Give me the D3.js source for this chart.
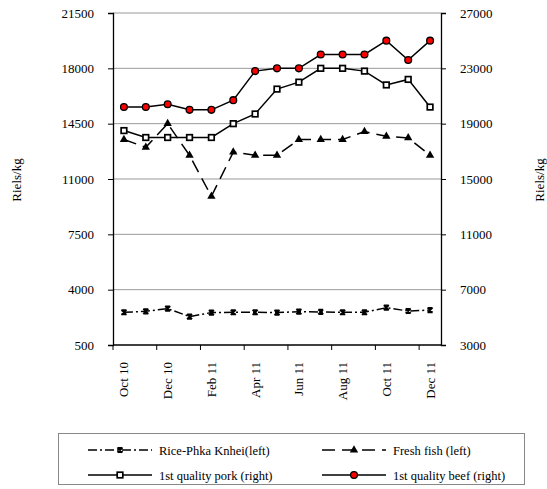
<!DOCTYPE html>
<html><head><meta charset="utf-8">
<script src="https://cdn.jsdelivr.net/npm/d3@7"></script>
<style>body{margin:0;background:#fff}svg{display:block}svg text{font-family:"Liberation Serif","Times New Roman",Times,"DejaVu Serif",serif !important;fill:#000}</style>
</head><body>
<script>
const months = ["Oct 10","Nov 10","Dec 10","Jan 11","Feb 11","Mar 11","Apr 11","May 11","Jun 11","Jul 11","Aug 11","Sep 11","Oct 11","Nov 11","Dec 11"];
const rice = [2570,2630,2800,2300,2550,2570,2570,2550,2610,2590,2570,2570,2860,2650,2710];
const fish = [13500,13000,14500,12500,9900,12700,12500,12500,13500,13500,13500,14000,13700,13600,12500];
const pork = [18500,18000,18000,18000,18000,19000,19700,21500,22000,23000,23000,22800,21800,22200,20200];
const beef = [20200,20200,20400,20000,20000,20700,22800,23000,23000,24000,24000,24000,25000,23600,25000];
const leftTicks = [500,4000,7500,11000,14500,18000,21500];
const rightTicks = [3000,7000,11000,15000,19000,23000,27000];
const xLabels = ["Oct 10","Dec 10","Feb 11","Apr 11","Jun 11","Aug 11","Oct 11","Dec 11"];
const seriesNames = ["Rice-Phka Knhei(left)","Fresh fish (left)","1st quality pork (right)","1st quality beef (right)"];

const FONT='"Liberation Serif","Times New Roman",Times,serif';
const W=547,H=489;
const m={l:113,r:441,t:13,b:345};
const svg=d3.select("body").append("svg").attr("width",W).attr("height",H).attr("font-family",FONT);

const x=d3.scaleBand().domain(months).range([m.l,m.r]);
const cx=d=>x(d)+x.bandwidth()/2;
const yL=d3.scaleLinear().domain([500,21500]).range([m.b,m.t]);
const yR=d3.scaleLinear().domain([3000,27000]).range([m.b,m.t]);

// gridlines
svg.append("g").selectAll("line").data(leftTicks.slice(1)).join("line")
  .attr("x1",m.l).attr("x2",m.r).attr("y1",d=>yL(d)).attr("y2",d=>yL(d))
  .attr("stroke","#999").attr("stroke-width",1);

// left axis
const gl=svg.append("g").attr("transform",`translate(${m.l},0)`)
  .call(d3.axisLeft(yL).tickValues(leftTicks).tickSize(5).tickPadding(14).tickFormat(d3.format("d")));
gl.attr("font-family",FONT).attr("font-size",13);
gl.select(".domain").attr("stroke","#000").attr("stroke-width",1.3);
gl.selectAll(".tick line").attr("stroke","#000");

// right axis
const gr=svg.append("g").attr("transform",`translate(${m.r},0)`)
  .call(d3.axisRight(yR).tickValues(rightTicks).tickSize(5).tickPadding(14).tickFormat(d3.format("d")));
gr.attr("font-family",FONT).attr("font-size",13);
gr.select(".domain").attr("stroke","#000").attr("stroke-width",1.3);
gr.selectAll(".tick line").attr("stroke","#000");

// bottom axis
const tickBounds = months.filter((d,i)=>i%2===0);
svg.append("line").attr("x1",m.l).attr("x2",m.r).attr("y1",m.b).attr("y2",m.b).attr("stroke","#000").attr("stroke-width",1.3);
svg.append("g").selectAll("line").data(tickBounds).join("line")
  .attr("x1",d=>x(d)).attr("x2",d=>x(d)).attr("y1",m.b).attr("y2",m.b+5).attr("stroke","#000");
svg.append("g").attr("font-size",13).selectAll("text").data(xLabels).join("text")
  .attr("transform",d=>`translate(${cx(d)+4.5},${m.b+17}) rotate(-90)`)
  .attr("text-anchor","end").text(d=>d);

// axis titles
svg.append("text").attr("transform","translate(21,180) rotate(-90)").attr("text-anchor","middle").attr("font-size",13).text("Riels/kg");
svg.append("text").attr("transform","translate(544,180) rotate(-90)").attr("text-anchor","middle").attr("font-size",13).text("Riels/kg");

// lines
const lineL=d3.line().x((d,i)=>cx(months[i])).y(d=>yL(d));
const lineR=d3.line().x((d,i)=>cx(months[i])).y(d=>yR(d));
const styles=[
  {data:rice,line:lineL,dash:"9,3,2,3",sym:"x"},
  {data:fish,line:lineL,dash:"13,7",sym:"tri"},
  {data:pork,line:lineR,dash:null,sym:"sq"},
  {data:beef,line:lineR,dash:null,sym:"circ"}
];
function drawMarker(g,sym,px,py){
  if(sym==="x"){
    g.append("path").attr("d",`M${px-2.5},${py-2.5}L${px+2.5},${py+2.5}M${px+2.5},${py-2.5}L${px-2.5},${py+2.5}M${px-2.5},${py-2.2}L${px+2.5},${py-2.2}M${px-2.5},${py+2.2}L${px+2.5},${py+2.2}`).attr("stroke","#000").attr("stroke-width",1.8).attr("fill","none");
  } else if(sym==="tri"){
    g.append("path").attr("d",d3.symbol(d3.symbolTriangle,30)()).attr("transform",`translate(${px},${py})`).attr("fill","#000");
  } else if(sym==="sq"){
    g.append("rect").attr("x",px-2.8).attr("y",py-2.8).attr("width",5.6).attr("height",5.6).attr("fill","#fff").attr("stroke","#000").attr("stroke-width",1.7);
  } else {
    g.append("circle").attr("cx",px).attr("cy",py).attr("r",3.4).attr("fill","#f00").attr("stroke","#000").attr("stroke-width",1.3);
  }
}
styles.forEach(s=>{
  svg.append("path").attr("d",s.line(s.data)).attr("fill","none").attr("stroke","#000").attr("stroke-width",1.5)
    .attr("stroke-dasharray",s.dash);
  const g=svg.append("g");
  s.data.forEach((v,i)=>{
    const py = s.line===lineL ? yL(v) : yR(v);
    drawMarker(g,s.sym,cx(months[i]),py);
  });
});

// legend
svg.append("rect").attr("x",58.5).attr("y",433.5).attr("width",466).attr("height",51).attr("fill","none").attr("stroke","#888").attr("stroke-width",1);
const legPos=[[88,450],[322,450],[88,475],[322,475]];
styles.forEach((s,i)=>{
  const [lx,ly]=legPos[i];
  svg.append("line").attr("x1",lx).attr("x2",lx+64).attr("y1",ly).attr("y2",ly).attr("stroke","#000").attr("stroke-width",1.5).attr("stroke-dasharray",s.dash);
  drawMarker(svg.append("g"),s.sym,lx+32,ly);
  svg.append("text").attr("x",lx+71).attr("y",ly+4.5).attr("font-size",12.5).text(seriesNames[i]);
});
</script>
</body></html>
